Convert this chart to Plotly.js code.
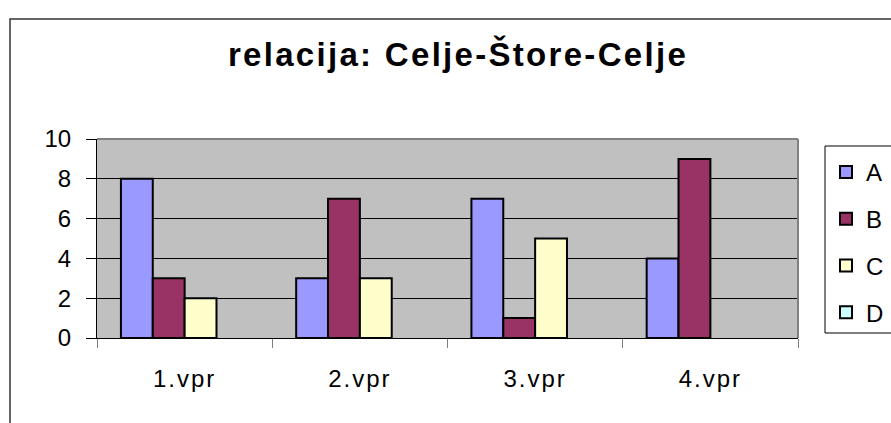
<!DOCTYPE html>
<html>
<head>
<meta charset="utf-8">
<script src="https://cdn.plot.ly/plotly-3.0.1.min.js"></script>
<style>
  html, body { margin: 0; padding: 0; background: #ffffff; overflow: hidden; }
  #chart { width: 891px; height: 423px; }
  .gtitle { letter-spacing: 2.3px; }
  .xtick text { letter-spacing: 2px; }
</style>
</head>
<body>
<div id="chart"></div>
<script>
// ---- data ----
const categories = ["1.vpr", "2.vpr", "3.vpr", "4.vpr"];
const seriesNames = ["A", "B", "C", "D"];
const valuesA = [8, 3, 7, 4];
const valuesB = [3, 7, 1, 9];
const valuesC = [2, 3, 5, 0];
const valuesD = [0, 0, 0, 0];
const colors = ["#9999FF", "#993366", "#FFFFCC", "#CCFFFF"];
const yTicks = [0, 2, 4, 6, 8, 10];
const chartTitle = "relacija: Celje-Štore-Celje";

const allValues = [valuesA, valuesB, valuesC, valuesD];
const FONT = "Liberation Sans, Arial, sans-serif";

// zero-valued bars have no visible height in the reference, so they are not drawn
const traces = allValues.map((vals, i) => ({
  type: "bar",
  name: seriesNames[i],
  x: categories,
  y: vals.map(v => (v === 0 ? null : v)),
  legendgroup: "g" + i,
  marker: { color: colors[i], line: { color: "#000000", width: 2 } },
  hoverinfo: "x+y+name"
}));

// plot area in pixels: x 97..798, y 139..338
const W = 891, H = 423;
const L = 97, R = 798, T = 139, B = 338;
const pw = R - L, ph = B - T;
const px = v => (v - L) / pw;
const py = v => (B - v) / ph;

const layout = {
  width: W, height: H,
  margin: { l: L, r: W - R, t: T, b: H - B, pad: 0, autoexpand: false },
  paper_bgcolor: "#ffffff",
  plot_bgcolor: "#C0C0C0",
  font: { family: FONT, color: "#000000", size: 24 },
  title: {
    text: chartTitle,
    font: { family: FONT, size: 33, color: "#000000", weight: "bold" },
    x: px(458), xref: "paper", xanchor: "center",
    y: 1 - 54 / H, yref: "container", yanchor: "middle"
  },
  barmode: "group",
  bargap: 0.273,
  bargroupgap: 0,
  showlegend: true,
  legend: {
    x: px(826), xanchor: "left",
    y: py(150), yanchor: "top",
    bgcolor: "rgba(0,0,0,0)",
    borderwidth: 0,
    font: { family: FONT, size: 24, color: "#000000" },
    tracegroupgap: 12.5,
    traceorder: "grouped"
  },
  xaxis: {
    type: "category",
    tickson: "boundaries",
    ticks: "outside",
    ticklen: 9,
    tickcolor: "#808080",
    tickwidth: 1,
    showline: true,
    linecolor: "#000000",
    linewidth: 1,
    showgrid: false,
    tickfont: { family: FONT, size: 24, color: "#000000" },
    ticklabelstandoff: 19,
    fixedrange: true
  },
  yaxis: {
    range: [0, 10],
    tickvals: yTicks,
    ticktext: yTicks.map(String),
    ticks: "outside",
    ticklen: 10,
    tickcolor: "#000000",
    tickwidth: 1,
    showline: true,
    linecolor: "#000000",
    linewidth: 1,
    showgrid: true,
    gridcolor: "#000000",
    gridwidth: 1,
    zeroline: false,
    tickfont: { family: FONT, size: 24, color: "#000000" },
    ticklabelstandoff: 10,
    fixedrange: true
  },
  shapes: [
    // plot area top & right border (gray)
    { type: "line", xref: "paper", yref: "paper", x0: 0, x1: 1, y0: 1, y1: 1,
      line: { color: "#808080", width: 2 } },
    { type: "line", xref: "paper", yref: "paper", x0: 1, x1: 1, y0: 0, y1: 1,
      line: { color: "#808080", width: 2 } },
    // legend border
    { type: "rect", xref: "paper", yref: "paper",
      x0: px(825), x1: px(920), y0: py(333), y1: py(146),
      line: { color: "#000000", width: 1 } },
    // outer chart border (extends beyond window)
    { type: "rect", xref: "paper", yref: "paper",
      x0: px(10), x1: px(930), y0: py(460), y1: py(19),
      line: { color: "#333333", width: 1.5 } }
  ]
};

Plotly.newPlot("chart", traces, layout, { displayModeBar: false, staticPlot: true });
</script>
</body>
</html>
